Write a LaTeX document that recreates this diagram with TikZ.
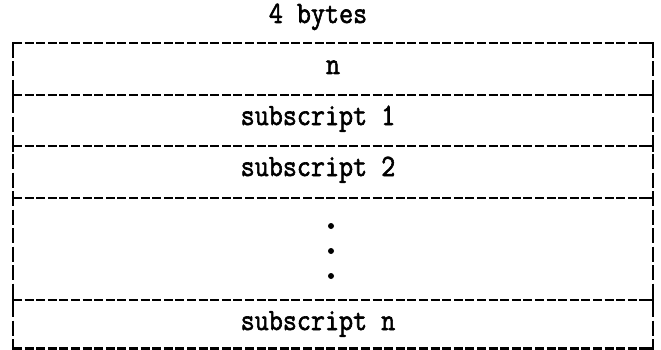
\documentclass[tikz,border=0pt]{standalone}
\usepackage{graphicx}
\usepackage{fontspec}
\newfontfamily\tw[FakeBold=2]{Latin Modern Mono}
\newcommand{\tx}[1]{\scalebox{0.88}[1]{#1}}
\begin{document}
\begin{tikzpicture}[x=1pt,y=1pt,
  hdash/.style={line width=2.2pt,dash pattern=on 9pt off 2.6pt},
  vdash/.style={line width=2.2pt,dash pattern=on 15pt off 3.5pt},
  tick/.style={line width=2.2pt},
  lbl/.style={font=\tw\fontsize{31}{31}\selectfont,inner sep=0pt,anchor=base},
  dotn/.style={circle,fill=black,inner sep=0pt,minimum size=6pt}]
\useasboundingbox (0,-350) rectangle (661,0);
% horizontal lines
\foreach \yy in {43,95,146,198,300,348.5}
  \draw[hdash] (13,-\yy) -- (653,-\yy);
% vertical lines
\draw[vdash] (13,-43) -- (13,-348.5);
\draw[vdash] (653,-43) -- (653,-348.5);
% corners
\draw[tick] (22,-43) -- (13,-43) -- (13,-52);
\draw[tick] (644,-43) -- (653,-43) -- (653,-52);
\draw[tick] (22,-348.5) -- (13,-348.5) -- (13,-341);
\draw[tick] (644,-348.5) -- (653,-348.5) -- (653,-341);
% tees
\foreach \yy in {95,146,198,300}{
  \draw[tick] (13,-\yy+6) -- (13,-\yy-6);
  \draw[tick] (13,-\yy) -- (21,-\yy);
  \draw[tick] (653,-\yy+6) -- (653,-\yy-6);
  \draw[tick] (653,-\yy) -- (645,-\yy);
}
% texts
\node[lbl] (title) at (318,-23) {\tx{4 bytes}};
\node[lbl] (n) at (333,-74) {\tx{n}};
\node[lbl] (s1) at (318,-125) {\tx{subscript 1}};
\node[lbl] (s2) at (318,-176) {\tx{subscript 2}};
\node[lbl] (sn) at (318,-330) {\tx{subscript n}};
% dots
\node[dotn] (d1) at (331,-226) {};
\node[dotn] (d2) at (331,-251) {};
\node[dotn] (d3) at (331,-276) {};
\end{tikzpicture}
\end{document}
